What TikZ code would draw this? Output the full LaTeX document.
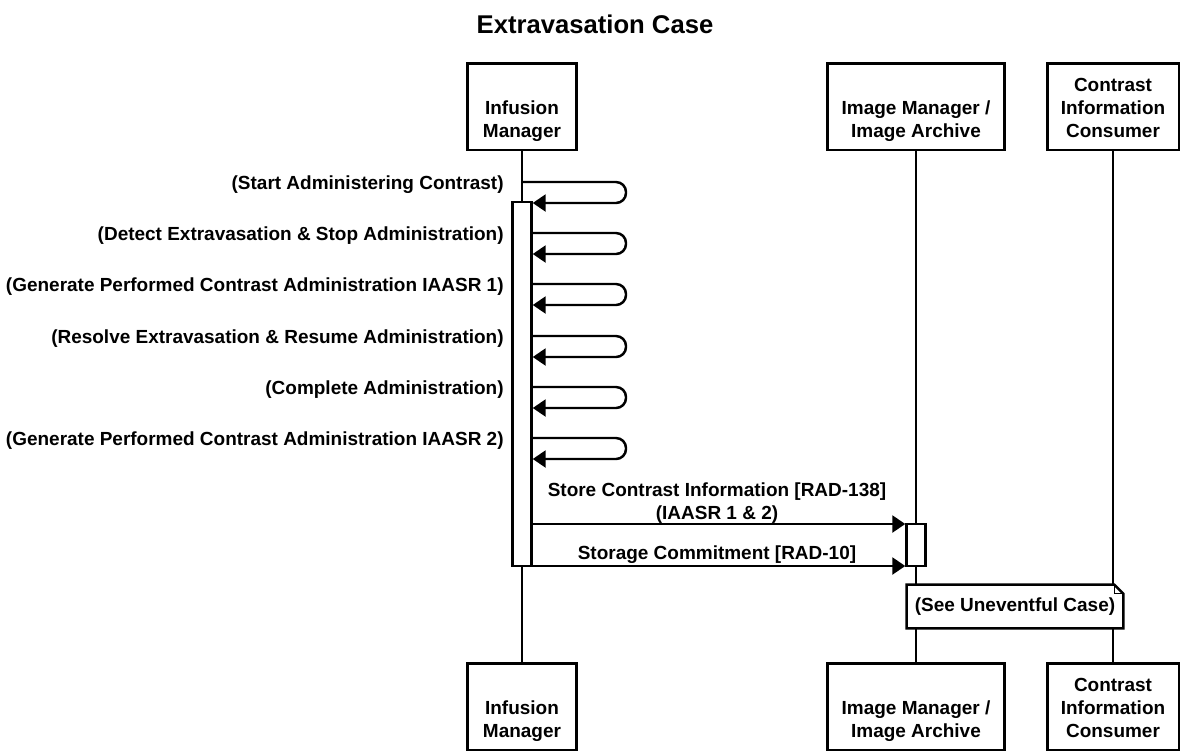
\documentclass[tikz,border=0pt]{standalone}
\usepackage{fontspec}
\setmainfont{Liberation Sans}
\usepackage{tikz}
\usetikzlibrary{positioning,calc,arrows.meta}

\tikzset{
    actor/.style={draw, line width=1.7pt, fill=white, minimum height=1.74cm, inner sep=0pt},
    actortext/.style={font=\bfseries\fontsize{10.8}{13.2}\selectfont, align=center, anchor=south, inner sep=0pt, yshift=0.13cm},
    lifeline/.style={line width=1.4pt},
    actbar/.style={draw, line width=1.4pt, fill=white, minimum width=0.38cm, inner sep=0pt},
    msg/.style={line width=1.4pt, -{Triangle[length=0.26cm,width=0.34cm]}},
    lbl/.style={font=\bfseries\fontsize{10.8}{12.8}\selectfont, inner sep=0pt, align=center},
    note/.style={font=\bfseries\fontsize{10.8}{12.8}\selectfont, fill=white, inner sep=0pt, minimum width=4.32cm, minimum height=0.86cm}
}

\begin{document}
\begin{tikzpicture}[x=0.02cm, y=-0.02cm]
    % Canvas
    \fill[white] (0,0) rectangle (1181,751);
    \useasboundingbox (0,0) rectangle (1181,751);

    % Title
    \node[font=\bfseries\fontsize{14.6}{17}\selectfont, anchor=base] (title) at (595,33) {Extravasation Case};

    % Participants, top and bottom
    \foreach \id/\x/\w/\name in {inf/522/2.2cm/{Infusion\\Manager}, im/916/3.56cm/{Image Manager /\\Image Archive}, cic/1113/2.64cm/{Contrast\\Information\\Consumer}} {
        \node[actor, minimum width=\w] (\id-top) at (\x,106.5) {};
        \node[actortext] (\id-toptxt) at (\id-top.south) {\name\strut};
        \node[actor, minimum width=\w] (\id-bot) at (\x,706.5) {};
        \node[actortext] (\id-bottxt) at (\id-bot.south) {\name\strut};
        \draw[lifeline] (\id-top.south) -- (\id-bot.north);
    }

    % Activation bars
    \node[actbar, minimum height=7.28cm] (inf-act) at (inf-top.south |- 0,384) {};
    \node[actbar, minimum height=0.84cm] (im-act) at (im-top.south |- 0,545) {};

    % Self messages
    \foreach \txt/\y/\from [count=\i] in {{(Start Administering Contrast)}/182/inf-top.south, {(Detect Extravasation \& Stop Administration)}/233/inf-act.east, {(Generate Performed Contrast Administration IAASR 1)}/284/inf-act.east, {(Resolve Extravasation \& Resume Administration)}/336/inf-act.east, {(Complete Administration)}/387/inf-act.east, {(Generate Performed Contrast Administration IAASR 2)}/438/inf-act.east} {
        \node[lbl, anchor=east] (self\i) at (504,\y+3) {\txt};
        \draw[msg, rounded corners=0.2cm] (\from |- 0,\y) -- (626,\y) -- (626,\y+21) -- (inf-act.east |- 0,\y+21);
    }

    % Messages to the archive
    \node[lbl] (store) at (717,503) {Store Contrast Information [RAD-138]\\(IAASR 1 \& 2)};
    \draw[msg] (inf-act.east |- 0,524) -- (im-act.west |- 0,524);
    \node[lbl] (commit) at (717,555) {Storage Commitment [RAD-10]};
    \draw[msg] (inf-act.east |- 0,566) -- (im-act.west |- 0,566);

    % Note
    \node[note] (see) at (1015,606.5) {(See Uneventful Case)};
    \draw[line width=1.4pt] (see.south west) -- (see.north west) -- ([xshift=-0.18cm]see.north east) -- ([yshift=-0.18cm]see.north east) -- (see.south east) -- cycle;
    \draw[line width=0.8pt] ([xshift=-0.18cm]see.north east) |- ([yshift=-0.18cm]see.north east);
\end{tikzpicture}
\end{document}
